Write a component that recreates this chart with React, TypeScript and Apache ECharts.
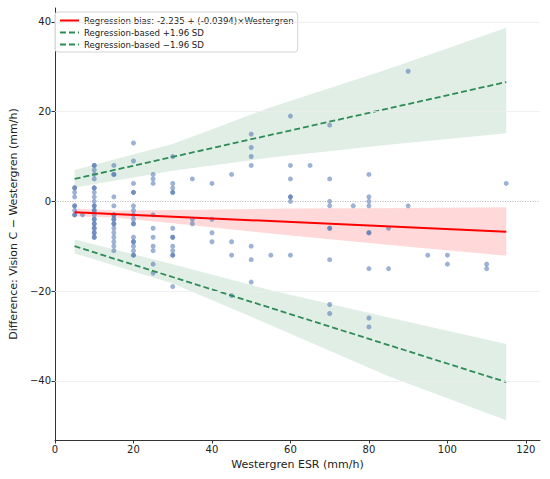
import React, { useEffect, useRef } from "react";
import * as echarts from "echarts";

// Westergren ESR levels (mm/h) and the differences (Vision C − Westergren) observed at each level
const esrLevels = [5, 7, 10, 15, 20, 25, 30, 35, 40, 45, 50, 55, 60, 65, 70, 76, 80, 85, 90, 95, 100, 110, 115];
const diffsByLevel = [
  [3, 3, 2, 1, -1, -1, -2, -3, -3],
  [-3],
  [8, 8, 7, 6, 5, 3, 3, 2, 1, 0, -1, -1, -2, -2, -3, -4, -4, -5, -5, -6, -6, -7, -7, -8, -8],
  [8, 6, 6, 1, -1, -3, -3, -4, -4, -5, -5, -6, -7, -8, -9, -10, -11],
  [13, 9, 4, 2, 2, -1, -2, -3, -4, -5, -5, -8, -9, -9, -10, -11, -12, -12],
  [6, 5, 4, -3, -6, -8, -10, -11, -14, -16],
  [10, 4, 3, 2, 2, -6, -8, -8, -10, -11, -12, -12, -19],
  [5, -4, -5],
  [4, -4, -7, -9],
  [6, -9, -12, -21],
  [15, 12, 10, 8, -10, -13, -18],
  [-12],
  [19, 8, 5, 1, 1, 0, -12],
  [8],
  [17, 5, 0, -1, -6, -6, -13, -23, -25],
  [-1],
  [6, 1, 0, -1, -7, -7, -15, -26, -28],
  [-6, -15],
  [29, -1],
  [-12],
  [-12, -14],
  [-14, -15],
  [4],
];

// Regression bias line
const biasIntercept = -2.235;
const biasSlope = -0.0394;
const lineX = [5, 115];
// Regression-based limits of agreement (end points)
const upperLoA = [5.0, 26.6];
const lowerLoA = [-10.0, -40.3];

// Confidence bands
const bandX = [5, 30, 55, 85, 115];
const upperBandHigh = [7.0, 12.8, 21.0, 29.5, 38.7];
const upperBandLow = [3.1, 6.8, 9.8, 12.6, 15.2];
const lowerBandHigh = [-8.5, -14.0, -19.8, -25.9, -31.8];
const lowerBandLow = [-11.6, -18.3, -27.6, -39.0, -48.8];
const biasBandX = [5, 15, 30, 60, 90, 115];
const biasBandHigh = [-1.6, -2.05, -1.95, -1.6, -1.5, -1.3];
const biasBandLow = [-3.3, -3.6, -4.9, -7.6, -10.1, -12.1];

// Axes
const xTicks = [0, 20, 40, 60, 80, 100, 120];
const yTicks = [-40, -20, 0, 20, 40];
const xRange = [0, 123.6];
const yRange = [-53.2, 43.1];

const FONT = "DejaVu Sans";
const NAME_BIAS = "Regression bias: -2.235 + (-0.0394)×Westergren";
const NAME_UP = "Regression-based +1.96 SD";
const NAME_LO = "Regression-based −1.96 SD";

function bandSeries(xs: number[], hi: number[], lo: number[], color: string) {
  return {
    type: "custom",
    silent: true,
    z: 1,
    data: [[xs[0], hi[0]]],
    encode: { x: 0, y: 1 },
    renderItem: (_params: any, api: any) => {
      const top = xs.map((x, i) => api.coord([x, hi[i]]));
      const bottom = xs.map((x, i) => api.coord([x, lo[i]])).reverse();
      return {
        type: "polygon",
        shape: { points: top.concat(bottom) },
        style: { fill: color },
      };
    },
  };
}

const fmt = (v: number) => (v < 0 ? "−" + Math.abs(v) : String(v));

export default function App() {
  const ref = useRef<HTMLDivElement>(null);
  useEffect(() => {
    if (!ref.current) return;
    const chart = echarts.init(ref.current, undefined, { renderer: "svg" });
    const points: number[][] = [];
    esrLevels.forEach((x, i) => diffsByLevel[i].forEach((d) => points.push([x, d])));
    const biasLine = lineX.map((x) => [x, biasIntercept + biasSlope * x]);

    chart.setOption({
      animation: false,
      textStyle: { fontFamily: FONT },
      grid: { left: 51.5, right: 10, top: 8, bottom: 39, containLabel: false },
      legend: {
        data: [NAME_BIAS, NAME_UP, NAME_LO],
        orient: "vertical",
        left: 55,
        top: 12,
        itemWidth: 19,
        itemHeight: 8,
        itemGap: 3,
        padding: [4, 4, 3, 4],
        borderColor: "#d4d4d4",
        borderWidth: 1,
        borderRadius: 3,
        backgroundColor: "rgba(255,255,255,0.85)",
        itemStyle: { opacity: 0, borderWidth: 0 },
        textStyle: { fontSize: 8.6, fontFamily: FONT, color: "#222" },
        selectedMode: false,
      },
      xAxis: {
        type: "value",
        min: xRange[0],
        max: xRange[1],
        name: "Westergren ESR (mm/h)",
        nameLocation: "middle",
        nameGap: 19,
        nameTextStyle: { fontSize: 11, fontFamily: FONT, color: "#222" },
        axisLine: { show: true, onZero: false, lineStyle: { color: "#333", width: 1 } },
        axisTick: { show: true, length: 3.5, customValues: xTicks, lineStyle: { color: "#333" } },
        axisLabel: { customValues: xTicks, fontSize: 10, fontFamily: FONT, color: "#222", margin: 4, formatter: fmt },
        splitLine: { show: false },
      },
      yAxis: {
        type: "value",
        min: yRange[0],
        max: yRange[1],
        name: "Difference: Vision C − Westergren (mm/h)",
        nameLocation: "middle",
        nameGap: 32,
        nameTextStyle: { fontSize: 11, fontFamily: FONT, color: "#222" },
        axisLine: { show: true, onZero: false, lineStyle: { color: "#333", width: 1 } },
        axisTick: { show: true, length: 3.5, customValues: yTicks, lineStyle: { color: "#333" } },
        axisLabel: { customValues: yTicks, fontSize: 10, fontFamily: FONT, color: "#222", margin: 4, formatter: fmt },
        splitLine: { show: false },
      },
      series: [
        {
          type: "line",
          data: [],
          silent: true,
          z: 0,
          markLine: {
            silent: true,
            symbol: "none",
            label: { show: false },
            data: yTicks
              .filter((v) => v !== 0)
              .map((v) => ({ yAxis: v, lineStyle: { color: "#ececec", width: 0.8, type: "solid" } }))
              .concat([{ yAxis: 0, lineStyle: { color: "#a8a8a8", width: 0.8, type: [1, 1.5] as any } }]),
          },
        },
        bandSeries(bandX, upperBandHigh, upperBandLow, "rgba(46,139,87,0.15)"),
        bandSeries(bandX, lowerBandHigh, lowerBandLow, "rgba(46,139,87,0.15)"),
        bandSeries(biasBandX, biasBandHigh, biasBandLow, "rgba(255,0,0,0.15)"),
        {
          type: "scatter",
          data: points,
          symbolSize: 5,
          z: 2,
          itemStyle: { color: "#4c72b0", opacity: 0.55 },
          silent: true,
        },
        {
          name: NAME_BIAS,
          type: "line",
          data: biasLine,
          symbol: "none",
          z: 3,
          itemStyle: { color: "#ff0000" },
          lineStyle: { color: "#ff0000", width: 2 },
          silent: true,
        },
        {
          name: NAME_UP,
          type: "line",
          data: lineX.map((x, i) => [x, upperLoA[i]]),
          symbol: "none",
          z: 3,
          itemStyle: { color: "#2e8b57" },
          lineStyle: { color: "#2e8b57", width: 1.8, type: [6, 3] },
          silent: true,
        },
        {
          name: NAME_LO,
          type: "line",
          data: lineX.map((x, i) => [x, lowerLoA[i]]),
          symbol: "none",
          z: 3,
          itemStyle: { color: "#2e8b57" },
          lineStyle: { color: "#2e8b57", width: 1.8, type: [6, 3] },
          silent: true,
        },
      ],
    });
    return () => chart.dispose();
  }, []);
  return (
    <div
      ref={ref}
      style={{ position: "fixed", left: 0, top: 0, width: 550, height: 479, background: "#fff" }}
    />
  );
}
